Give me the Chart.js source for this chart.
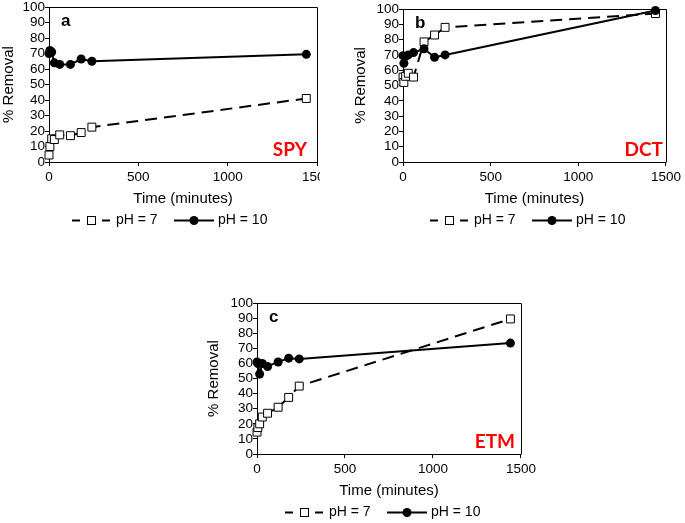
<!DOCTYPE html>
<html>
<head>
<meta charset="utf-8">
<script src="https://cdn.jsdelivr.net/npm/chart.js@4/dist/chart.umd.min.js"></script>
<style>
  html, body { margin: 0; padding: 0; background: #fff; }
  body { width: 685px; height: 523px; position: relative; overflow: hidden; }
  .panel { position: absolute; overflow: hidden; }
  canvas { display: block; }
</style>
</head>
<body>
<div class="panel" style="left:0;top:0;width:320px;height:240px"><canvas id="chartA" width="340" height="240"></canvas></div>
<div class="panel" style="left:352px;top:0;width:333px;height:240px"><canvas id="chartB" width="333" height="240"></canvas></div>
<div class="panel" style="left:205px;top:296px;width:335px;height:227px"><canvas id="chartC" width="335" height="227"></canvas></div>
<script>
'use strict';

// sampling times (minutes)
const timeMin = [0, 5, 15, 30, 60, 120, 180, 240, 1440];
const seriesLabels = ['pH = 7', 'pH = 10'];
const xTicks = [0, 500, 1000, 1500];
const yTicks = [0, 10, 20, 30, 40, 50, 60, 70, 80, 90, 100];

// % removal, panel a (SPY)
const spyPH7 = [4.5, 10, 15, 14.5, 17.5, 17, 19, 22.5, 41];
const spyPH10 = [70, 72, 71, 64, 63, 63, 66.5, 65, 69.5];
// panel b (DCT)
const dctPH7 = [55.5, 52, 56, 58, 55.5, 78.5, 83, 88, 97];
const dctPH10 = [69.5, 64.5, 69, 70, 71.5, 74, 68.5, 70, 99];
// panel c (ETM)
const etmPH7 = [14.5, 17.5, 20, 24.5, 27, 31, 37.5, 45, 89.5];
const etmPH10 = [61, 60, 53, 60, 58, 61, 63.5, 63, 73.5];

const FONT = '"Liberation Sans", Arial, sans-serif';

const toXY = (ys) => timeMin.map((t, i) => ({ x: t, y: ys[i] }));

// box, panel letter, compound name and the line+marker legend
const panelDeco = {
  id: 'panelDeco',
  afterDraw(chart, args, o) {
    const { ctx, chartArea: ca } = chart;
    ctx.save();
    ctx.strokeStyle = '#000';
    ctx.lineWidth = 1;
    ctx.beginPath();
    ctx.moveTo(Math.round(ca.left) + 0.5, Math.round(ca.top) + 0.5);
    ctx.lineTo(Math.round(ca.right) + 0.5, Math.round(ca.top) + 0.5);
    ctx.lineTo(Math.round(ca.right) + 0.5, Math.round(ca.bottom) + 0.5);
    ctx.stroke();

    ctx.fillStyle = '#000';
    ctx.font = 'bold 17px ' + FONT;
    ctx.textAlign = 'left';
    ctx.textBaseline = 'alphabetic';
    ctx.fillText(o.letter, ca.left + 12, ca.top + 19);

    ctx.fillStyle = '#ff0000';
    ctx.font = 'bold 19px Lato, "Open Sans", sans-serif';
    ctx.textAlign = 'right';
    ctx.fillText(o.name, ca.right - o.nameDx, ca.bottom - 6);

    // legend
    const ds = chart.data.datasets;
    const y = Math.round(ca.bottom + o.legendDy) + 0.5;
    const x = Math.round((ca.left + ca.right) / 2 + o.legendDx);
    ctx.strokeStyle = '#000';
    ctx.lineWidth = 2;
    ctx.beginPath();
    ctx.moveTo(x, y); ctx.lineTo(x + 8, y);
    ctx.moveTo(x + 30, y); ctx.lineTo(x + 38, y);
    ctx.stroke();
    ctx.lineWidth = 1;
    ctx.fillStyle = '#fff';
    ctx.fillRect(x + 15.5, y - 4, 8, 8);
    ctx.strokeRect(x + 15.5, y - 4, 8, 8);

    ctx.lineWidth = 2;
    ctx.beginPath();
    ctx.moveTo(x + 102, y); ctx.lineTo(x + 142, y);
    ctx.stroke();
    ctx.fillStyle = '#000';
    ctx.beginPath();
    ctx.arc(x + 122, y, 4.5, 0, Math.PI * 2);
    ctx.fill();

    ctx.font = '14px ' + FONT;
    ctx.textAlign = 'left';
    ctx.textBaseline = 'middle';
    ctx.fillText(ds[0].label, x + 44, y);
    ctx.fillText(ds[1].label, x + 146, y);
    ctx.restore();
  },
};

function makeChart(id, ph7, ph10, cfg) {
  const tickFont = { family: FONT, size: 13.5, lineHeight: 1.05 };
  const titleFont = { family: FONT, size: 15 };
  return new Chart(document.getElementById(id), {
    type: 'line',
    data: {
      datasets: [
        {
          label: seriesLabels[0], data: toXY(ph7), order: 1,
          borderColor: '#000', borderWidth: 2, borderDash: [12, 7],
          pointStyle: 'rect', pointRadius: 5.6, pointBorderWidth: 1,
          pointBackgroundColor: '#fff', pointBorderColor: '#000',
          clip: false, tension: 0,
        },
        {
          label: seriesLabels[1], data: toXY(ph10), order: 0,
          borderColor: '#000', borderWidth: 2,
          pointStyle: 'circle', pointRadius: 4.5, pointBorderWidth: 0,
          pointBackgroundColor: '#000', pointBorderColor: '#000',
          clip: false, tension: 0,
        },
      ],
    },
    options: {
      responsive: false,
      animation: false,
      events: [],
      layout: { padding: cfg.pad },
      plugins: { legend: { display: false }, tooltip: { enabled: false }, panelDeco: cfg },
      scales: {
        x: {
          type: 'linear', min: xTicks[0], max: xTicks[xTicks.length - 1],
          afterBuildTicks: (s) => { s.ticks = xTicks.map((v) => ({ value: v })); },
          afterFit: (s) => { s.height = 46; },
          ticks: { font: tickFont, color: '#000', padding: 4, maxRotation: 0, autoSkip: false, callback: (v) => String(v) },
          grid: { drawOnChartArea: false, tickLength: 4, color: '#000' },
          border: { color: '#000', width: 1 },
          title: { display: true, text: 'Time (minutes)', font: titleFont, color: '#000', padding: 0 },
        },
        y: {
          type: 'linear', min: yTicks[0], max: yTicks[yTicks.length - 1],
          afterBuildTicks: (s) => { s.ticks = yTicks.map((v) => ({ value: v })); },
          afterFit: (s) => { s.width = cfg.yw; },
          ticks: { font: tickFont, color: '#000', padding: 0, autoSkip: false, callback: (v) => String(v) },
          grid: { drawOnChartArea: false, tickLength: 4, color: '#000' },
          border: { color: '#000', width: 1 },
          title: { display: true, text: '% Removal', font: titleFont, color: '#000', padding: 0 },
        },
      },
    },
    plugins: [panelDeco],
  });
}

makeChart('chartA', spyPH7, spyPH10, {
  letter: 'a', name: 'SPY', nameDx: 10, legendDx: -111, legendDy: 58,
  yw: 49, pad: { top: 7, right: 23, bottom: 32, left: 0 },
});
makeChart('chartB', dctPH7, dctPH10, {
  letter: 'b', name: 'DCT', nameDx: 3, legendDx: -104, legendDy: 58,
  yw: 51, pad: { top: 9, right: 15, bottom: 32, left: 0 },
});
makeChart('chartC', etmPH7, etmPH10, {
  letter: 'c', name: 'ETM', nameDx: 6, legendDx: -104, legendDy: 58,
  yw: 52, pad: { top: 7, right: 15, bottom: 23, left: 0 },
});
</script>
</body>
</html>
